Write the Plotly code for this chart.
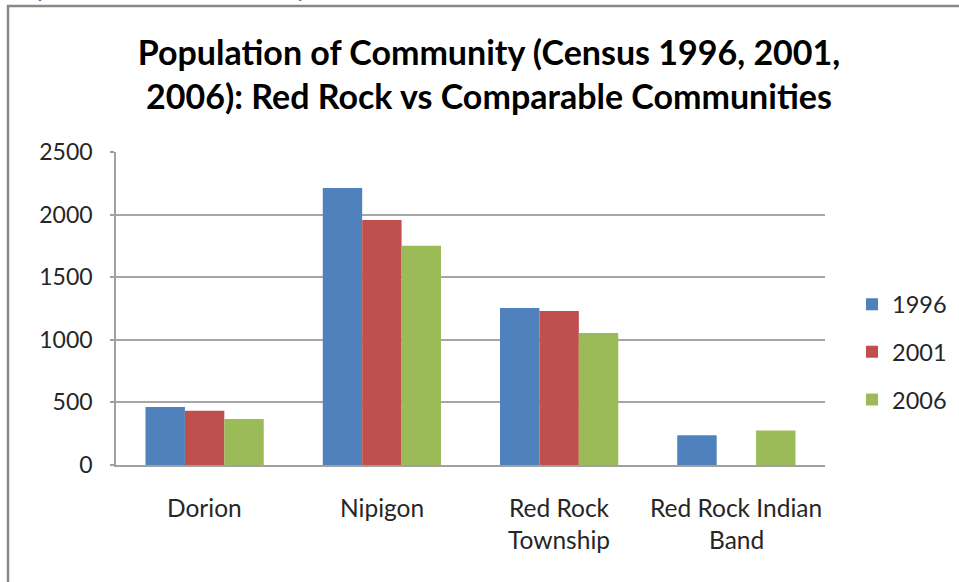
import plotly.graph_objects as go

# Census populations by community
communities = ["Dorion", "Nipigon", "Red Rock Township", "Red Rock Indian Band"]
community_labels = [["Dorion"], ["Nipigon"], ["Red Rock", "Township"], ["Red Rock Indian", "Band"]]
pop_1996 = [463, 2212, 1254, 237]
pop_2001 = [434, 1957, 1230, None]
pop_2006 = [367, 1752, 1054, 276]
years = ["1996", "2001", "2006"]
colors = ["#4F81BD", "#C0504D", "#9BBB59"]
y_ticks = [0, 500, 1000, 1500, 2000, 2500]

W, H = 959, 582
FONT = "Lato"
TEXT = "#262626"


def px_x(v):
    return v / W


def px_y(v):
    return 1 - v / H


fig = go.Figure()
for name, vals, col in zip(years, [pop_1996, pop_2001, pop_2006], colors):
    fig.add_trace(go.Bar(
        x=communities, y=vals, name=name, legendgroup=name,
        marker=dict(color=col, line=dict(width=0)),
    ))

# category labels under the axis, one line per annotation
annotations = []
for cat, lines in zip(communities, community_labels):
    for i, line in enumerate(lines):
        annotations.append(dict(
            x=cat, xref="x", y=px_y(507 + 32 * i), yref="paper",
            text=line, showarrow=False, xanchor="center", yanchor="middle",
            font=dict(family=FONT, size=24.5, color=TEXT),
        ))

# partial page heading above the chart frame
annotations.append(dict(
    x=px_x(4), y=px_y(4), xref="paper", yref="paper",
    text="Population of Community,", showarrow=False,
    xanchor="left", yanchor="bottom",
    font=dict(family=FONT, size=27, color="#4A7EBB"),
))

fig.update_layout(
    width=W, height=H,
    margin=dict(l=0, r=0, t=0, b=0, autoexpand=False),
    paper_bgcolor="white", plot_bgcolor="white",
    font=dict(family=FONT, size=23, color=TEXT),
    title=dict(
        text="<b>Population of Community (Census 1996, 2001,<br>2006): Red Rock vs Comparable Communities</b>",
        x=px_x(489), xanchor="center", y=px_y(65), yanchor="middle",
        font=dict(family=FONT, size=34, color="#000000"),
    ),
    barmode="group", bargap=0.333, bargroupgap=0,
    xaxis=dict(
        domain=[px_x(116), px_x(825)], automargin=False,
        showticklabels=False, ticks="", showgrid=False,
        showline=True, linecolor="#A0A0A0", linewidth=1.5,
    ),
    yaxis=dict(
        domain=[px_y(465), px_y(152)], automargin=False,
        range=[0, 2500], tickvals=y_ticks,
        showgrid=True, gridcolor="#A6A6A6", gridwidth=1.5,
        showline=True, linecolor="#A0A0A0", linewidth=1.5,
        ticks="outside", ticklen=4, tickcolor="#A0A0A0", tickwidth=1.5,
        ticklabelstandoff=13,
        tickfont=dict(family=FONT, size=23, color=TEXT),
        zeroline=False,
    ),
    legend=dict(
        x=px_x(852), xanchor="left", y=px_y(352), yanchor="middle",
        traceorder="grouped", tracegroupgap=14,
        font=dict(family=FONT, size=23.5, color=TEXT),
        bgcolor="rgba(0,0,0,0)",
    ),
    annotations=annotations,
    shapes=[dict(
        type="rect", xref="paper", yref="paper",
        x0=px_x(8), x1=1.05, y0=-0.05, y1=px_y(6),
        line=dict(color="#888888", width=2.5), fillcolor="rgba(0,0,0,0)",
        layer="below",
    )],
)

fig.write_html("out.html")
